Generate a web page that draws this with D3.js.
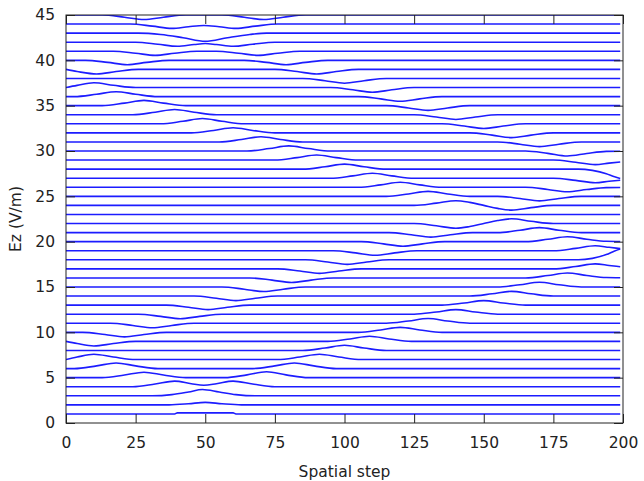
<!DOCTYPE html>
<html>
<head>
<meta charset="utf-8">
<script src="https://cdn.jsdelivr.net/npm/d3@7/dist/d3.min.js"></script>
<style>
  body { margin: 0; background: #fff; }
  text { font-family: "DejaVu Sans", sans-serif; fill: #222; }
</style>
</head>
<body>
<div id="chart-area"></div>
<script>
// --- Data ---
var xTicks = [0, 25, 50, 75, 100, 125, 150, 175, 200];
var yTicks = [0, 5, 10, 15, 20, 25, 30, 35, 40, 45];
var timeSteps = [1, 2, 3, 4, 5, 6, 7, 8, 9, 10, 11, 12, 13, 14, 15,
                 16, 17, 18, 19, 20, 21, 22, 23, 24, 25, 26, 27, 28, 29, 30,
                 31, 32, 33, 34, 35, 36, 37, 38, 39, 40, 41, 42, 43, 44, 45];

// [spatial step, Ez offset from the trace baseline], traces 1..15
var lowerLines = [
  [[0,0],[39,0],[40,0.12],[60,0.12],[61,0],[199,0]],
  [[0,0],[37,0],[44,0.12],[50,0.28],[56,0.12],[63,0],[199,0]],
  [[0,0],[31,0],[38,0.13],[44,0.42],[49,0.7],[55,0.42],[61,0.13],[68,0],[199,0]],
  [[0,0],[24,0],[32,0.3],[39,0.62],[45,0.33],[49.5,0.17],[54,0.33],[60,0.62],[67,0.3],[75,0],[199,0]],
  [[0,0],[13,0],[21,0.29],[28,0.6],[35,0.29],[43,0],[57,0],[65,0.31],[72,0.65],[79,0.31],[87,0],[199,0]],
  [[0,0],[3,0],[11,0.3],[18,0.62],[25,0.3],[33,0],[67,0],[75,0.3],[82,0.62],[89,0.3],[97,0],[199,0]],
  [[0,0],[4,0.27],[10,0.58],[17,0.28],[25,0],[76,0],[84,0.28],[91,0.58],[98,0.28],[106,0],[199,0]],
  [[0,0],[85,0],[93,0.27],[100,0.57],[107,0.27],[115,0],[199,0]],
  [[0,0],[4,-0.24],[10,-0.5],[17,-0.24],[25,0],[94,0],[102,0.27],[109,0.57],[116,0.27],[124,0],[199,0]],
  [[0,0],[6,0],[14,-0.24],[21,-0.5],[28,-0.24],[36,0],[105,0],[113,0.26],[120,0.55],[127,0.26],[135,0],[199,0]],
  [[0,0],[16,0],[24,-0.24],[31,-0.5],[38,-0.24],[46,0],[115,0],[123,0.25],[130,0.52],[137,0.25],[145,0],[199,0]],
  [[0,0],[26,0],[34,-0.24],[41,-0.5],[48,-0.24],[56,0],[125,0],[133,0.24],[140,0.5],[147,0.24],[155,0],[199,0]],
  [[0,0],[36,0],[44,-0.24],[51,-0.5],[58,-0.24],[66,0],[135,0],[143,0.24],[150,0.5],[157,0.24],[165,0],[199,0]],
  [[0,0],[46,0],[54,-0.24],[61,-0.5],[68,-0.24],[76,0],[145,0],[153,0.25],[160,0.52],[167,0.25],[175,0],[199,0]],
  [[0,0],[56,0],[64,-0.24],[71,-0.5],[78,-0.24],[86,0],[155,0],[163,0.25],[170,0.52],[177,0.25],[185,0],[199,0]]
];

// traces 16..30
var middleLines = [
  [[0,0],[66,0],[74,-0.24],[81,-0.5],[88,-0.24],[96,0],[165,0],[173,0.26],[180,0.55],[187,0.27],[194,0.04],[199,0.02]],
  [[0,0],[76,0],[84,-0.24],[91,-0.5],[98,-0.24],[106,0],[175,0],[183,0.26],[190,0.55],[195,0.38],[199,0.24]],
  [[0,0],[86,0],[94,-0.24],[101,-0.5],[108,-0.24],[116,0],[184,0],[189,0.16],[194,0.58],[197,0.98],[199,1.2]],
  [[0,0],[96,0],[104,-0.24],[111,-0.5],[118,-0.24],[126,0],[175,0],[183,0.26],[190,0.55],[195,0.38],[199,0.24]],
  [[0,0],[106,0],[114,-0.24],[121,-0.5],[128,-0.24],[136,0],[165,0],[173,0.26],[180,0.55],[187,0.27],[194,0.04],[199,0.02]],
  [[0,0],[116,0],[124,-0.24],[131,-0.5],[138,-0.24],[146,0],[155,0],[163,0.26],[170,0.55],[177,0.26],[185,0],[199,0]],
  [[0,0],[125,0],[133,-0.25],[140,-0.52],[145,-0.33],[150,0],[155,0.33],[160,0.52],[167,0.25],[175,0],[199,0]],
  [[0,0],[199,0]],
  [[0,0],[125,0],[133,0.25],[140,0.52],[145,0.33],[150,0],[155,-0.33],[160,-0.52],[167,-0.25],[175,0],[199,0]],
  [[0,0],[115,0],[123,0.26],[130,0.55],[137,0.26],[145,0],[155,0],[163,-0.24],[170,-0.5],[177,-0.24],[185,0],[199,0]],
  [[0,0],[105,0],[113,0.26],[120,0.55],[127,0.26],[135,0],[165,0],[173,-0.24],[180,-0.5],[187,-0.25],[194,-0.04],[199,-0.02]],
  [[0,0],[95,0],[103,0.26],[110,0.55],[117,0.26],[125,0],[175,0],[183,-0.24],[190,-0.5],[195,-0.34],[199,-0.22]],
  [[0,0],[85,0],[93,0.26],[100,0.55],[107,0.26],[115,0],[184,0],[189,-0.14],[194,-0.5],[197,-0.85],[199,-1.03]],
  [[0,0],[75,0],[83,0.27],[90,0.56],[97,0.27],[105,0],[175,0],[183,-0.24],[190,-0.5],[195,-0.34],[199,-0.22]],
  [[0,0],[65,0],[73,0.27],[80,0.56],[87,0.27],[95,0],[165,0],[173,-0.26],[180,-0.55],[187,-0.27],[194,-0.04],[199,-0.02]]
];

// traces 31..45
var upperLines = [
  [[0,0],[55,0],[63,0.27],[70,0.57],[77,0.27],[85,0],[155,0],[163,-0.25],[170,-0.52],[177,-0.25],[185,0],[199,0]],
  [[0,0],[45,0],[53,0.27],[60,0.57],[67,0.27],[75,0],[145,0],[153,-0.25],[160,-0.52],[167,-0.25],[175,0],[199,0]],
  [[0,0],[34,0],[42,0.28],[49,0.58],[56,0.28],[64,0],[135,0],[143,-0.25],[150,-0.52],[157,-0.25],[165,0],[199,0]],
  [[0,0],[24,0],[32,0.28],[39,0.58],[46,0.28],[54,0],[125,0],[133,-0.25],[140,-0.52],[147,-0.25],[155,0],[199,0]],
  [[0,0],[13,0],[21,0.28],[28,0.58],[35,0.28],[43,0],[115,0],[123,-0.25],[130,-0.52],[137,-0.25],[145,0],[199,0]],
  [[0,0],[3,0],[11,0.26],[18,0.54],[25,0.26],[33,0],[105,0],[113,-0.25],[120,-0.52],[127,-0.25],[135,0],[199,0]],
  [[0,0],[4,0.24],[10,0.52],[17,0.25],[25,0],[95,0],[103,-0.25],[110,-0.52],[117,-0.25],[125,0],[199,0]],
  [[0,0],[85,0],[93,-0.25],[100,-0.52],[107,-0.25],[115,0],[199,0]],
  [[0,0],[4,-0.23],[11,-0.5],[18,-0.24],[26,0],[75,0],[83,-0.24],[90,-0.5],[97,-0.24],[105,0],[199,0]],
  [[0,0],[7,0],[15,-0.23],[22,-0.48],[29,-0.23],[37,0],[64,0],[72,-0.23],[79,-0.48],[86,-0.23],[94,0],[199,0]],
  [[0,0],[17,0],[25,-0.22],[32,-0.45],[39,-0.22],[47,0],[54,0],[62,-0.22],[69,-0.45],[76,-0.22],[84,0],[199,0]],
  [[0,0],[25,0],[33,-0.22],[40,-0.45],[46,-0.26],[50,-0.15],[54,-0.26],[60,-0.45],[67,-0.22],[75,0],[199,0]],
  [[0,0],[26,0],[34,-0.15],[42,-0.5],[50,-0.9],[58,-0.5],[66,-0.15],[72,0],[199,0]],
  [[0,0],[23,0],[31,-0.23],[38,-0.48],[44,-0.29],[49.5,-0.16],[55,-0.29],[61,-0.48],[68,-0.23],[76,0],[199,0]],
  [[0,0],[13,0],[21,-0.24],[28,-0.5],[35,-0.24],[43,0],[56,0],[64,-0.24],[71,-0.5],[78,-0.24],[86,0],[199,0]]
];

// --- Setup the canvas ---
var canvasWidth = 644;
var canvasHeight = 481;
var margins = {top: 15, bottom: 58, left: 66, right: 21};
var graphWidth = canvasWidth - margins.left - margins.right;
var graphHeight = canvasHeight - margins.top - margins.bottom;
var fontSize = 15.5;
var tickLen = 9;

var canvas = d3.select("#chart-area").append("svg")
  .attr("width", canvasWidth)
  .attr("height", canvasHeight);

canvas.append("defs").append("clipPath")
  .attr("id", "plot-clip")
  .append("rect")
  .attr("width", graphWidth)
  .attr("height", graphHeight);

var graph = canvas.append("g")
  .attr("transform", "translate(" + margins.left + "," + margins.top + ")");

// --- Scales ---
var xScale = d3.scaleLinear().domain([0, 200]).range([0, graphWidth]);
var yScale = d3.scaleLinear().domain([0, 45]).range([graphHeight, 0]);

// --- Traces ---
var traces = lowerLines.concat(middleLines, upperLines).map(function(pts, i) {
  return pts.map(function(p) { return [p[0], timeSteps[i] + p[1]]; });
});

var line = d3.line()
  .x(function(d) { return xScale(d[0]); })
  .y(function(d) { return yScale(d[1]); })
  .curve(d3.curveMonotoneX);

graph.append("g")
  .attr("clip-path", "url(#plot-clip)")
  .selectAll("path")
  .data(traces)
  .enter()
  .append("path")
    .attr("d", line)
    .attr("fill", "none")
    .attr("stroke", "#1c1cff")
    .attr("stroke-width", 1.6);

// --- Axes (gnuplot style: inward ticks, mirrored) ---
function styleAxis(g) {
  g.select(".domain").remove();
  g.selectAll(".tick line").attr("stroke", "#222");
  g.selectAll(".tick text").attr("font-size", fontSize + "px").attr("fill", "#222");
}

graph.append("g")
  .attr("transform", "translate(0," + graphHeight + ")")
  .call(d3.axisBottom(xScale).tickValues(xTicks).tickSize(-tickLen).tickPadding(14))
  .call(styleAxis);

graph.append("g")
  .call(d3.axisTop(xScale).tickValues(xTicks).tickSize(-tickLen).tickFormat(""))
  .call(styleAxis);

graph.append("g")
  .call(d3.axisLeft(yScale).tickValues(yTicks).tickSize(-tickLen).tickPadding(11))
  .call(styleAxis);

graph.append("g")
  .attr("transform", "translate(" + graphWidth + ",0)")
  .call(d3.axisRight(yScale).tickValues(yTicks).tickSize(-tickLen).tickFormat(""))
  .call(styleAxis);

graph.append("rect")
  .attr("x", 0)
  .attr("y", 0)
  .attr("width", graphWidth)
  .attr("height", graphHeight)
  .attr("fill", "none")
  .attr("stroke", "#222")
  .attr("stroke-width", 1);

// --- Labels ---
canvas.append("text")
  .text("Ez (V/m)")
  .attr("transform", "translate(21," + (margins.top + graphHeight / 2) + ") rotate(-90)")
  .attr("text-anchor", "middle")
  .attr("font-size", fontSize + "px");

canvas.append("text")
  .text("Spatial step")
  .attr("x", margins.left + graphWidth / 2)
  .attr("y", 477)
  .attr("text-anchor", "middle")
  .attr("font-size", fontSize + "px");
</script>
</body>
</html>
